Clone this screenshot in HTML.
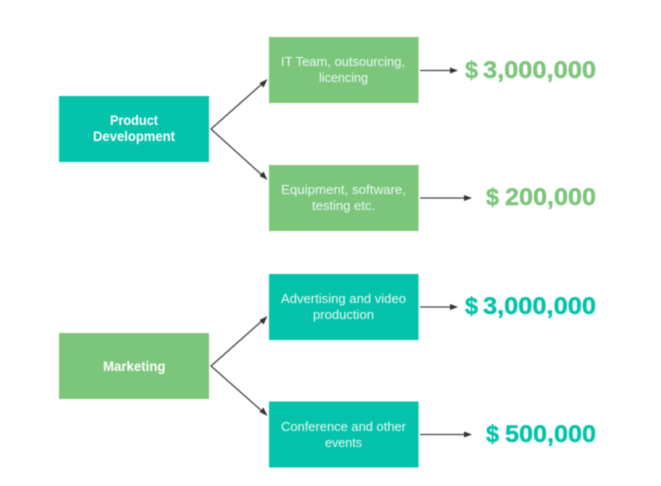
<!DOCTYPE html>
<html>
<head>
<meta charset="utf-8">
<style>
html,body{margin:0;padding:0;background:#fff;width:661px;height:486px;overflow:hidden}
svg{display:block;filter:blur(0.4px)}
text{font-family:"Liberation Sans",sans-serif}
.t{font-size:13px;fill:#eafaf4}
.b{font-size:13.5px;font-weight:bold;fill:#fff}
.a{font-size:24px;font-weight:bold;stroke-width:0.4px}
.g{fill:#7bc67b;stroke:#7bc67b}
.c{fill:#04c3aa;stroke:#04c3aa}
.l{stroke:#444;stroke-width:1.3;fill:none}
.h{fill:#333}
</style>
</head>
<body>
<svg width="661" height="486" viewBox="0 0 661 486" xmlns="http://www.w3.org/2000/svg">
<rect width="661" height="486" fill="#fff"/>
<rect x="59" y="96" width="150" height="66" fill="#04c3aa"/>
<rect x="59" y="333" width="150" height="66" fill="#7bc67b"/>
<rect x="269" y="37" width="149.500" height="66" fill="#7bc67b"/>
<rect x="269" y="165" width="149.500" height="66" fill="#7bc67b"/>
<rect x="269" y="274" width="149.500" height="66" fill="#04c3aa"/>
<rect x="269" y="401.500" width="149.500" height="66" fill="#04c3aa"/>

<path class="l" d="M263 83 L211 129 L263 176"/>
<path class="h" d="M267.500 79 L259.500 83 L263.500 87.500Z"/>
<path class="h" d="M267.500 180 L259.500 176 L263.500 171.500Z"/>
<path class="l" d="M263 320 L211 366 L263 412"/>
<path class="h" d="M267.500 316 L259.500 320 L263.500 324.500Z"/>
<path class="h" d="M267.500 416 L259.500 412 L263.500 407.500Z"/>

<path class="l" d="M420 70.500H452"/>
<path class="h" d="M458 70.500 L450 67.500 V73.500Z"/>
<path class="l" d="M420 198H466"/>
<path class="h" d="M472 198 L464 195 V201Z"/>
<path class="l" d="M420 307H452"/>
<path class="h" d="M458 307 L450 304 V310Z"/>
<path class="l" d="M420 434.500H466"/>
<path class="h" d="M472 434.500 L464 431.500 V437.500Z"/>

<text class="b" x="110" y="125" textLength="48" lengthAdjust="spacingAndGlyphs">Product</text>
<text class="b" x="93" y="141" textLength="82" lengthAdjust="spacingAndGlyphs">Development</text>
<text class="b" x="103" y="371" textLength="62.500" lengthAdjust="spacingAndGlyphs">Marketing</text>

<text class="t" x="281" y="66" textLength="124" lengthAdjust="spacingAndGlyphs">IT Team, outsourcing,</text>
<text class="t" x="319" y="82" textLength="49" lengthAdjust="spacingAndGlyphs">licencing</text>
<text class="t" x="281" y="194" textLength="125" lengthAdjust="spacingAndGlyphs">Equipment, software,</text>
<text class="t" x="312" y="210" textLength="63" lengthAdjust="spacingAndGlyphs">testing etc.</text>
<text class="t" x="281" y="303" textLength="125" lengthAdjust="spacingAndGlyphs">Advertising and video</text>
<text class="t" x="313" y="319" textLength="61" lengthAdjust="spacingAndGlyphs">production</text>
<text class="t" x="281" y="431" textLength="125" lengthAdjust="spacingAndGlyphs">Conference and other</text>
<text class="t" x="325" y="447" textLength="37" lengthAdjust="spacingAndGlyphs">events</text>

<text class="a g" x="465" y="78" textLength="13" lengthAdjust="spacingAndGlyphs">$</text>
<text class="a g" x="483" y="78" textLength="113" lengthAdjust="spacingAndGlyphs">3,000,000</text>
<text class="a g" x="486" y="205" textLength="13" lengthAdjust="spacingAndGlyphs">$</text>
<text class="a g" x="505" y="205" textLength="91" lengthAdjust="spacingAndGlyphs">200,000</text>
<text class="a c" x="465" y="314" textLength="13" lengthAdjust="spacingAndGlyphs">$</text>
<text class="a c" x="483" y="314" textLength="113" lengthAdjust="spacingAndGlyphs">3,000,000</text>
<text class="a c" x="486" y="442" textLength="13" lengthAdjust="spacingAndGlyphs">$</text>
<text class="a c" x="505" y="442" textLength="91" lengthAdjust="spacingAndGlyphs">500,000</text>
</svg>
</body>
</html>
